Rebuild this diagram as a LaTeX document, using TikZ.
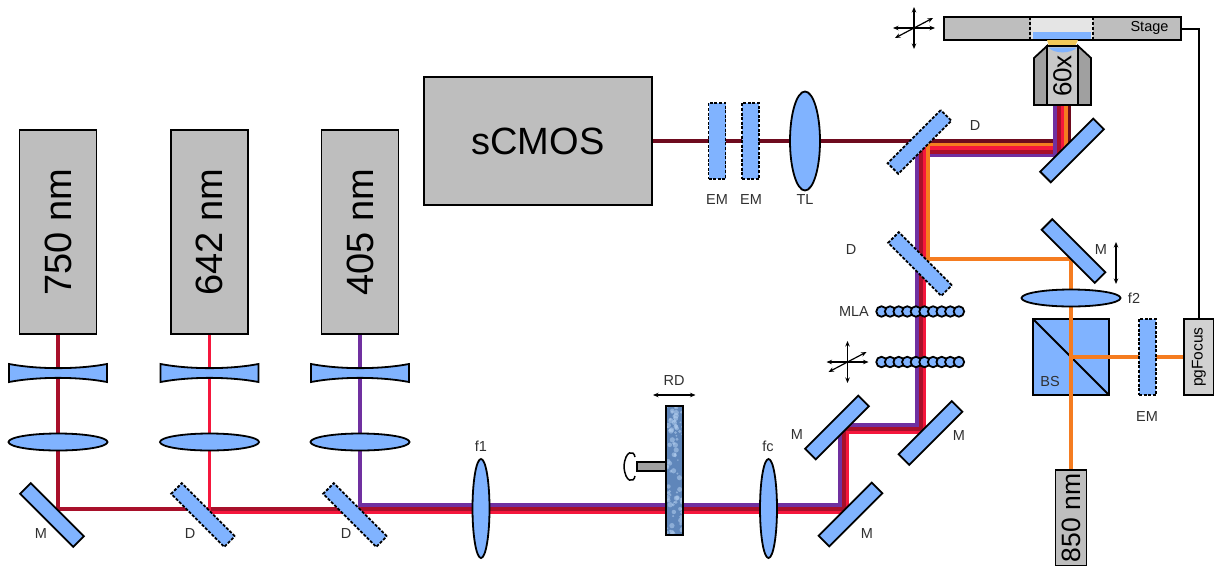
\documentclass[tikz,border=0pt]{standalone}
\usepackage{fontspec}
\setmainfont{Liberation Sans}
\usetikzlibrary{positioning,calc,backgrounds,shapes.geometric,arrows.meta}
\definecolor{opticblue}{HTML}{80B3FF}
\definecolor{boxgray}{HTML}{BEBEBE}
\definecolor{sidegray}{HTML}{A0A0A0}
\definecolor{discblue}{HTML}{5F86BA}
\definecolor{discspot}{HTML}{B4CFF0}
\definecolor{oilyellow}{HTML}{F2C95A}
\definecolor{beampurple}{HTML}{7030A0}
\definecolor{beamdark}{HTML}{A8102A}
\definecolor{beamred}{HTML}{F5173C}
\definecolor{beamorange}{HTML}{F57C20}
\definecolor{beammaroon}{HTML}{6E0A1E}
\definecolor{labelgray}{HTML}{303030}
\tikzset{
    optic/.style={draw=black, line width=1.8pt, fill=opticblue, inner sep=0pt, outer sep=0pt},
    lens/.style={optic, ellipse, minimum width=99pt, minimum height=17pt},
    biglens/.style={optic, ellipse, minimum width=17pt, minimum height=99pt},
    mirrorbox/.style={optic, rectangle, minimum width=75pt, minimum height=15pt},
    dichroic/.style={mirrorbox, dash pattern=on 3pt off 1.6pt},
    emfilter/.style={optic, rectangle, dash pattern=on 3pt off 1.6pt, minimum width=17pt, minimum height=76pt},
    mlaball/.style={optic, circle, minimum size=10.5pt},
    graybox/.style={draw=black, line width=1.8pt, fill=boxgray, inner sep=0pt, outer sep=0pt, rectangle},
    laser/.style={graybox, rotate=90, minimum width=204pt, minimum height=77pt, font=\fontsize{38}{40}\selectfont},
    tag/.style={inner sep=0pt, text=labelgray, font=\fontsize{14.5}{16}\selectfont},
    beam/.style={line width=3.7pt, line join=miter},
    wire/.style={draw=black, line width=2pt},
    moveaxis/.style={draw=black, line width=1.2pt, {Stealth[length=5.5pt,width=4.5pt]}-{Stealth[length=5.5pt,width=4.5pt]}},
}
\begin{document}
\begin{tikzpicture}[x=1pt, y=-1pt]
\useasboundingbox (0,0) rectangle (1214,565);

\node[laser] (l750) at (58,232) {750 nm};
\node[laser] (l642) at (209.5,232) {642 nm};
\node[laser] (l405) at (360,232) {405 nm};
\node[graybox, minimum width=228pt, minimum height=128pt, font=\fontsize{38}{40}\selectfont] (scmos) at (538,141) {sCMOS};
\node[graybox, rotate=90, minimum width=96pt, minimum height=31pt, font=\fontsize{26.5}{28}\selectfont] (l850) at (1071,518) {850 nm};
\node[graybox, rotate=90, minimum width=76pt, minimum height=30pt, fill=boxgray!70, font=\fontsize{15.5}{17}\selectfont] (pgfocus) at (1199,357) {pgFocus};

\foreach \xc in {58,209.5,360} {
    \draw[optic] (\xc-49,364) .. controls (\xc-20,369.5) and (\xc+20,369.5) .. (\xc+49,364)
        -- (\xc+49,382) .. controls (\xc+20,376.5) and (\xc-20,376.5) .. (\xc-49,382) -- cycle;
}
\node[lens] (c750) at (58,442) {};
\node[lens] (c642) at (209.5,442) {};
\node[lens] (c405) at (360,442) {};
\node[mirrorbox, rotate=-45] (m750) at (52,515) {};
\node[dichroic, rotate=-45] (d642) at (203,515) {};
\node[dichroic, rotate=-45] (d405) at (355,515) {};
\node[biglens] (f1) at (481,508.5) {};
\node[biglens] (fc) at (768.5,508.5) {};

\node[draw=black, line width=1.5pt, fill=sidegray, inner sep=0pt, outer sep=0pt, minimum width=29pt, minimum height=9pt] (shaft) at (651.5,466.5) {};
\node[optic, fill=discblue, minimum width=16.5pt, minimum height=129pt] (rd) at (674.5,470.5) {};
\begin{scope}
    \clip (rd.south west) rectangle (rd.north east);
    \pgfmathsetseed{17}
    \foreach \i in {1,...,80} {
        \fill[discspot, opacity=0.55] ($(rd.south)+(8*rand,-64.5*rnd*2)$) circle (0.8+2*rnd);
    }
\end{scope}
\draw[line width=1.8pt, draw=black] (rd.south west) rectangle (rd.north east);
\draw[line width=1.5pt] (635,457) .. controls (634,450) and (625,450) .. (624,466.5) .. controls (625,483) and (634,483) .. (635,476);
\draw[moveaxis] (653,395) -- (695.5,395);

\node[mirrorbox, rotate=45] (m1) at (850.5,514.5) {};
\node[mirrorbox, rotate=45] (m2) at (837,427.5) {};
\node[mirrorbox, rotate=45] (m3) at (930.5,433) {};
\foreach \yr/\rowname in {311.5/a,362/b} {
    \foreach \i in {0,...,9} {
        \node[mlaball] (mla\rowname\i) at (881.5+8.6*\i,\yr) {};
    }
}
\node[dichroic, rotate=-45] (d850) at (920,264) {};
\node[dichroic, rotate=45] (dmain) at (919.5,142) {};
\node[mirrorbox, rotate=45] (mobj) at (1072,150.5) {};
\node[mirrorbox, rotate=-45] (mfocus) at (1073.5,251) {};
\node[lens] (f2) at (1071,298) {};
\node[emfilter] (emfocus) at (1147.5,357) {};
\node[emfilter] (em1) at (717,141) {};
\node[emfilter] (em2) at (750.5,141) {};
\node[biglens, minimum width=30pt] (tl) at (805,141) {};

\node[graybox, minimum width=237pt, minimum height=23pt] (stage) at (1062.5,28.5) {};
\node[rectangle, fill=black!10, inner sep=0pt, minimum width=62pt, minimum height=22pt] (window) at (1061.5,28.5) {};
\node[fill=opticblue, inner sep=0pt, minimum width=58pt, minimum height=7pt] (sample) at (1061.5,35.5) {};
\draw[line width=1.8pt, dash pattern=on 3pt off 1.8pt] (window.north west) -- (window.south west);
\draw[line width=1.8pt, dash pattern=on 3pt off 1.8pt] (window.north east) -- (window.south east);
\draw[line width=1.8pt] (stage.north west) rectangle (stage.south east);
\node[tag, text=black] (stagetag) at (1149.5,27.5) {Stage};

\fill[oilyellow] (1047,40) -- (1078,40) -- (1075,46) -- (1049,46) -- cycle;
\draw[line width=1.8pt, fill=sidegray] (1047,46) -- (1034,58) -- (1034,105) -- (1047,105) -- cycle;
\draw[line width=1.8pt, fill=sidegray] (1078,46) -- (1091,58) -- (1091,105) -- (1078,105) -- cycle;
\node[graybox, fill=boxgray!85!white, minimum width=31pt, minimum height=59pt] (objective) at (1062.5,75.5) {};
\fill[opticblue] (1048.5,47.5) .. controls (1054,54) and (1071,54) .. (1077,47.5) -- cycle;
\node[rotate=90, inner sep=0pt, font=\fontsize{26}{28}\selectfont] (objtext) at (1062.5,76) {60x};

\foreach \cx/\cy in {914/28,847.5/362} {
    \draw[moveaxis] (\cx-21,\cy) -- (\cx+21,\cy);
    \draw[moveaxis] (\cx,\cy-21) -- (\cx,\cy+21);
    \draw[moveaxis] (\cx-19,\cy+10) -- (\cx+19,\cy-10);
}
\draw[moveaxis] (1116,242) -- (1116,284);

\node[tag] (tagm750) at (41,534) {M};
\node[tag] (tagd642) at (190,534) {D};
\node[tag] (tagd405) at (346,534) {D};
\node[tag] (tagf1) at (481,446) {f1};
\node[tag] (tagrd) at (674,381) {RD};
\node[tag] (tagfc) at (768,446) {fc};
\node[tag] (tagm2) at (797,435) {M};
\node[tag] (tagm1) at (867,534) {M};
\node[tag] (tagm3) at (959,436) {M};
\node[tag] (tagmla) at (854,312) {MLA};
\node[tag] (tagd850) at (851,250) {D};
\node[tag] (tagdmain) at (975,126) {D};
\node[tag] (tagem1) at (717,200) {EM};
\node[tag] (tagem2) at (751,200) {EM};
\node[tag] (tagtl) at (805,200) {TL};
\node[tag] (tagm) at (1101,250) {M};
\node[tag] (tagf2) at (1134,298) {f2};
\node[tag] (tagbs) at (1050,382) {BS};
\node[tag] (tagem) at (1147,417) {EM};

\begin{scope}[on background layer]
    \node[optic, minimum size=76pt] (bs) at (1071,357) {};
    \draw[line width=1.8pt] (bs.north west) -- (bs.south east);

    \coordinate (cnrA) at (840,505);
    \coordinate (cnrB) at (840,425);
    \coordinate (cnrC) at (917,425);
    \coordinate (cnrD) at (917,155.5);
    \coordinate (cnrE) at (1055,155.5);

    \foreach \col/\d in {beampurple/0,beamdark/3.7,beamred/7.4,beamorange/10.9,beammaroon/14.5} {
        \draw[beam, \col] ($(cnrD)+(\d,-\d)$) -- ($(cnrE)+(\d,-\d)$);
    }
    \draw[beam, beammaroon] (scmos.east) -- ($(cnrD)+(14.5,-14.5)$);

    \draw[beam, beamdark] (l750.west) -- (58,508.7) -- ($(cnrA)+(3.7,3.7)$) -- ($(cnrB)+(3.7,3.7)$) -- ($(cnrC)+(3.7,3.7)$) -- ($(cnrD)+(3.7,-3.7)$);
    \draw[beam, beamred] (l642.west) -- (209.5,512.4) -- ($(cnrA)+(7.4,7.4)$) -- ($(cnrB)+(7.4,7.4)$) -- ($(cnrC)+(7.4,7.4)$) -- ($(cnrD)+(7.4,-7.4)$);
    \draw[beam, beampurple] (l405.west) -- (360,505) -- (cnrA) -- (cnrB) -- (cnrC) -- (cnrD);

    \coordinate (orgA) at (927.9,259);
    \coordinate (orgB) at (1071,259);
    \draw[beam, beamorange] ($(cnrD)+(10.9,-10.9)$) -- (orgA) -- (orgB) -- (l850.east);
    \draw[beam, beamorange, line width=4pt] (bs.center) -- (pgfocus.south);

    \foreach \col/\d in {beammaroon/14.5,beamorange/10.9,beamred/7.4,beamdark/3.7,beampurple/0} {
        \coordinate (objin) at ($(cnrE)+(\d,-\d)$);
        \draw[beam, \col] (objin) -- (objin |- objective.south);
    }
    \draw[wire] (stage.east) -| (pgfocus.east);
\end{scope}
\end{tikzpicture}
\end{document}
